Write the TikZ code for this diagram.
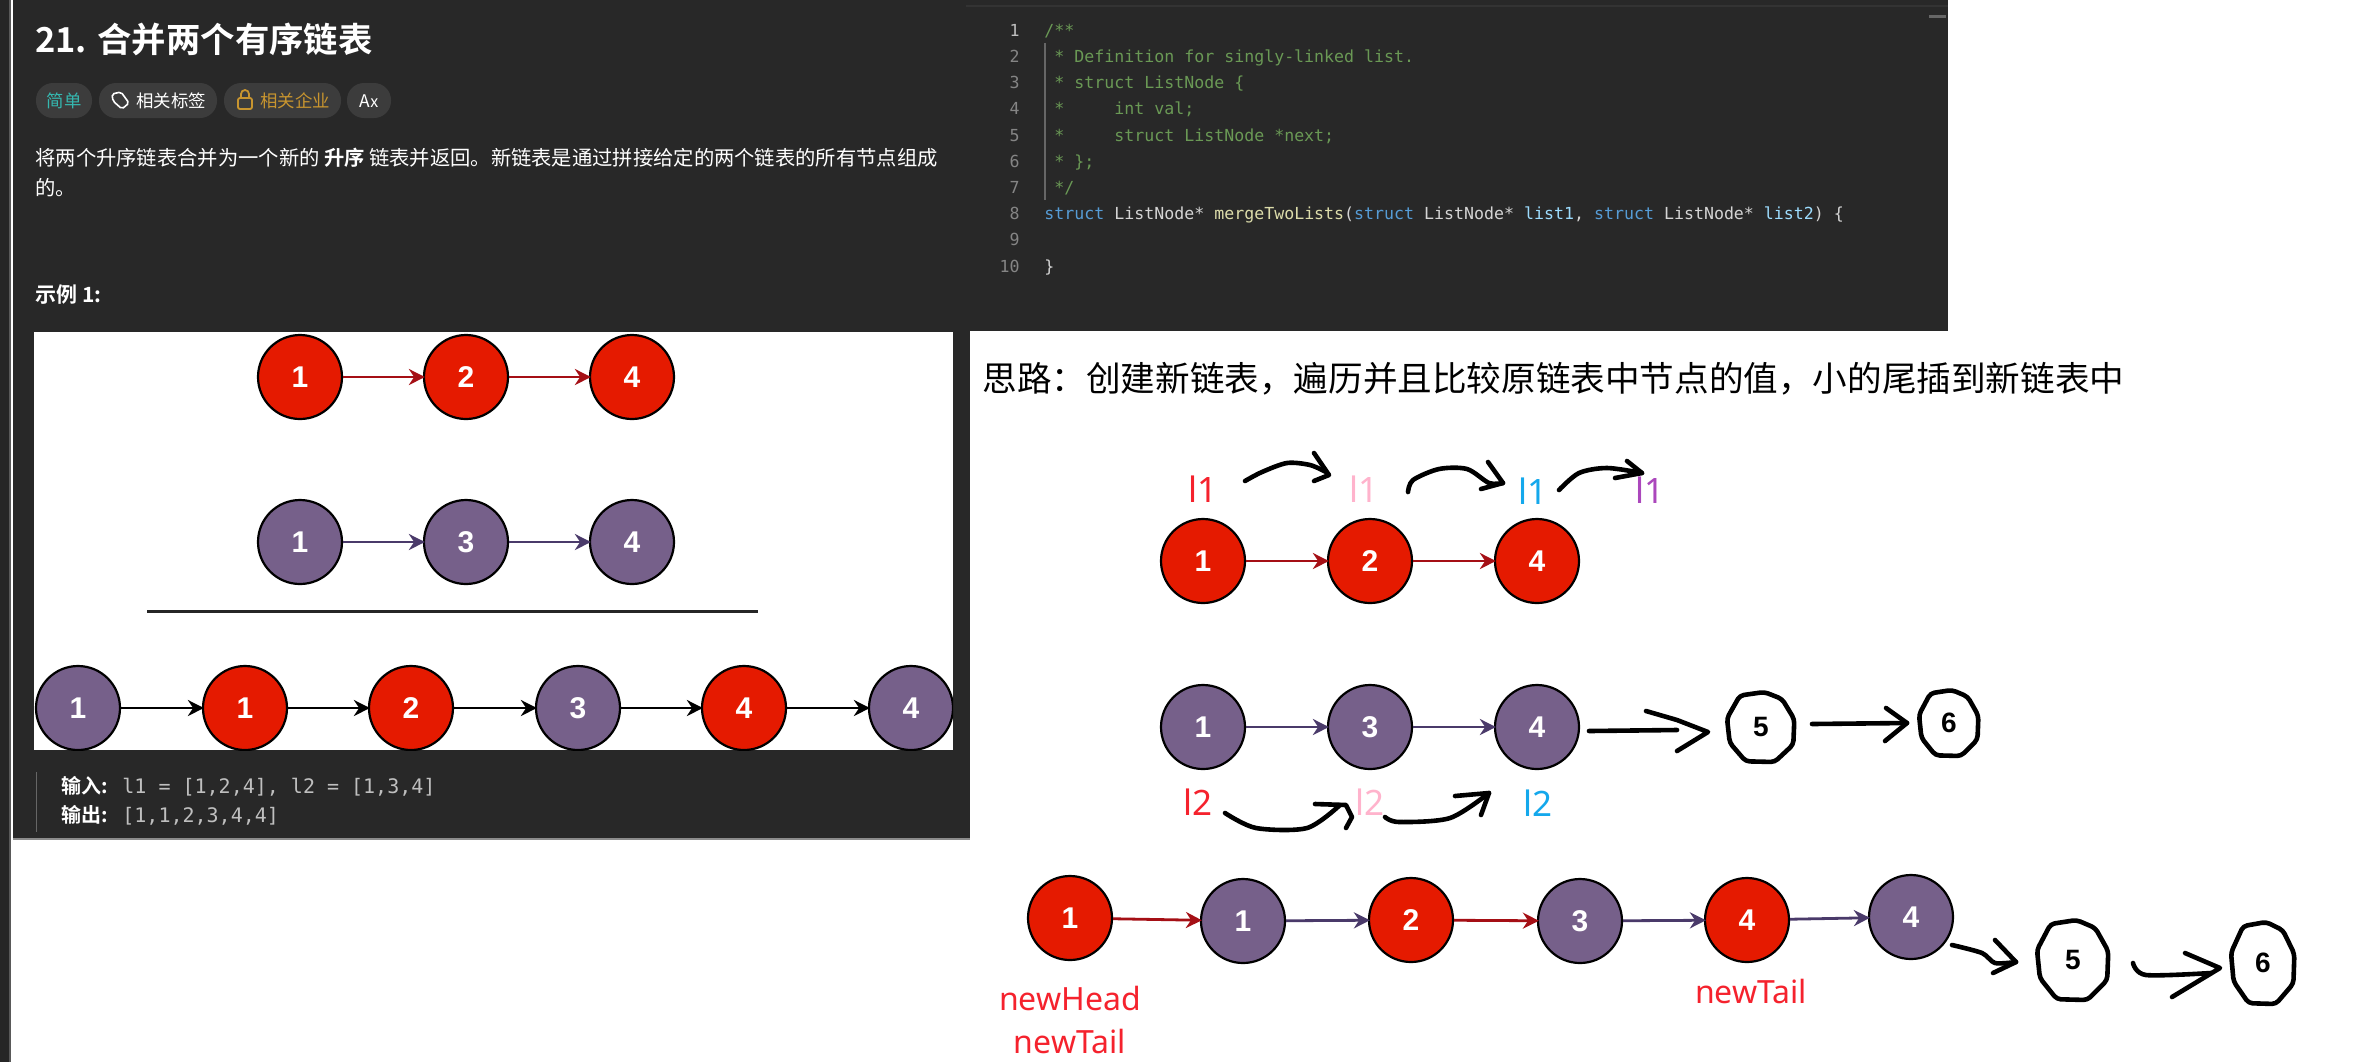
\documentclass[tikz,border=0pt]{standalone}
\usepackage{fontspec}
\setmainfont{Liberation Sans}
\newfontfamily\cjkfont{Noto Sans CJK SC}
\newfontfamily\cjkbold{Noto Sans CJK SC Bold}
\newfontfamily\inkfont{Noto Sans}
\setmonofont{DejaVu Sans Mono}
\usetikzlibrary{arrows.meta,shapes.geometric}

\definecolor{panelbg}{HTML}{282828}
\definecolor{pillbg}{HTML}{3C3C3C}
\definecolor{listred}{HTML}{E51A00}
\definecolor{listpurple}{HTML}{76608A}
\definecolor{arrowred}{HTML}{A50F15}
\definecolor{arrowpurple}{HTML}{4A3A6A}
\definecolor{inkred}{HTML}{F5222D}
\definecolor{inkpink}{HTML}{FFB3CC}
\definecolor{inkblue}{HTML}{14A8EC}
\definecolor{inkviolet}{HTML}{AB47BC}
\definecolor{codegreen}{HTML}{6A9955}
\definecolor{codeblue}{HTML}{569CD6}
\definecolor{codeparam}{HTML}{9CDCFE}
\definecolor{codefunc}{HTML}{DCDCAA}
\definecolor{codetext}{HTML}{D4D4D4}
\definecolor{lineno}{HTML}{858585}
\definecolor{easygreen}{HTML}{35B8B0}
\definecolor{firmorange}{HTML}{C8952F}

\newcommand{\handring}[3]{%
    \draw[hand, rounded corners=2pt, shift={(#1)}, xscale=#2, yscale=#3]
        (0.98,-0.22) -- (0.62,-0.8) -- (0.1,-1) -- (-0.62,-0.9) -- (-1,-0.25) -- (-0.92,0.45)
        -- (-0.45,0.98) -- (0.4,1) -- (0.95,0.5) -- cycle;}

\tikzset{
    redlist/.style={circle, draw=black, line width=1.1pt, fill=listred, minimum size=42pt,
        inner sep=0pt, text=white, font=\bfseries\fontsize{15}{15}\selectfont},
    purplelist/.style={redlist, fill=listpurple},
    redlink/.style={-{Stealth[length=8pt,width=8pt]}, arrowred, line width=1.4pt, shorten >=-1pt},
    purplelink/.style={redlink, arrowpurple},
    blacklink/.style={redlink, black},
    hand/.style={line width=2.3pt, line cap=round, line join=round},
    handdigit/.style={inner sep=0pt, font=\bfseries\fontsize{14}{14}\selectfont},
    pill/.style={draw=none, fill=pillbg, rounded corners=8.5pt},
    pilltext/.style={font=\cjkfont\fontsize{8.7}{9}\selectfont},
    codeline/.style={anchor=base west, inner sep=0pt, font=\ttfamily\fontsize{8.3}{9}\selectfont},
    linenum/.style={anchor=base east, inner sep=0pt, text=lineno, font=\ttfamily\fontsize{8.3}{9}\selectfont},
    pointer/.style={inner sep=0pt, font=\inkfont\fontsize{17.5}{18}\selectfont},
    tailname/.style={inner sep=0pt, text=inkred, font=\inkfont\fontsize{16}{16}\selectfont},
}

\begin{document}
\begin{tikzpicture}[x=0.5pt, y=-0.5pt]
    \useasboundingbox (0,0) rectangle (2356,1062);
    \fill[white] (0,0) rectangle (2356,1062);

    % Dark panels
    \fill[black!85!white] (0,0) rectangle (9,1062);
    \fill[black!65!white] (9,0) rectangle (11,1062);
    \fill[black!45!white] (13,838) rectangle (970,840);
    \fill[panelbg] (13,0) rectangle (970,838);
    \fill[panelbg] (970,0) rectangle (1948,331);
    \fill[black!80!white] (966,5) rectangle (1948,7);
    \fill[black!60!white] (1929,15) rectangle (1946,18);

    % Problem text
    \node[anchor=base west, inner sep=0pt, text=white, font=\cjkbold\fontsize{17.2}{18}\selectfont] (title) at (35,52) {21. 合并两个有序链表};
    \fill[pill] (36,83) rectangle (92,118);
    \node[pilltext, text=easygreen] (easy) at (64,101) {简单};
    \fill[pill] (99,83) rectangle (217,118);
    \node[pilltext, text=white] (tags) at (171,101) {相关标签};
    \draw[white, line width=0.8pt, rounded corners=1pt] (112,94) -- (121,92) -- (129,103) -- (122,109) -- (113,101) -- cycle;
    \fill[pill] (224,83) rectangle (341,118);
    \node[pilltext, text=firmorange] (firms) at (295,101) {相关企业};
    \draw[firmorange, line width=0.9pt, rounded corners=1pt] (238,98) rectangle (252,109);
    \draw[firmorange, line width=0.9pt] (241,98) -- (241,94) arc (180:360:4) -- (249,98);
    \fill[pill] (347,83) rectangle (391,118);
    \node[pilltext, text=white] (lang) at (369,101) {A\fontsize{8}{8}\selectfont x};

    \node[anchor=base west, inner sep=0pt, text=white, font=\cjkfont\fontsize{10.15}{10}\selectfont] (desc) at (35,165)
        {将两个升序链表合并为一个新的 {\cjkbold 升序} 链表并返回。新链表是通过拼接给定的两个链表的所有节点组成};
    \node[anchor=base west, inner sep=0pt, text=white, font=\cjkfont\fontsize{10.15}{10}\selectfont] (desc2) at (35,195) {的。};
    \node[anchor=base west, inner sep=0pt, text=white, font=\cjkbold\fontsize{10.5}{10}\selectfont] (sample) at (35,302) {示例 1:};

    % Code lines
    \fill[black!60!white] (1044,43) rectangle (1045.5,200);
    \node[linenum, text=lightgray] (no1) at (1020,36) {1};
    \foreach \n/\y in {2/62,3/88,4/114,5/141,6/167,7/193,8/219,9/245,10/272}
        \node[linenum] (no\n) at (1020,\y) {\n};
    \node[codeline, text=codegreen] (c1) at (1044,36) {/**};
    \node[codeline, text=codegreen] (c2) at (1054,62) {* Definition for singly-linked list.};
    \node[codeline, text=codegreen] (c3) at (1054,88) {* struct ListNode \{};
    \node[codeline, text=codegreen] (c4) at (1054,114) {*\ \ \ \ \ int val;};
    \node[codeline, text=codegreen] (c5) at (1054,141) {*\ \ \ \ \ struct ListNode *next;};
    \node[codeline, text=codegreen] (c6) at (1054,167) {* \};};
    \node[codeline, text=codegreen] (c7) at (1054,193) {*/};
    \node[codeline, text=codetext] (c8) at (1044,219) {\textcolor{codeblue}{struct} ListNode* \textcolor{codefunc}{mergeTwoLists}(\textcolor{codeblue}{struct} ListNode* \textcolor{codeparam}{list1}, \textcolor{codeblue}{struct} ListNode* \textcolor{codeparam}{list2}) \{};
    \node[codeline, text=codetext] (c10) at (1044,272) {\}};

    % Sample picture
    \fill[white] (34,332) rectangle (953,750);
    \begin{scope}
        \clip (34,332) rectangle (953,750);
        \node[redlist] (a1) at (300,377) {1};
        \node[redlist] (a2) at (466,377) {2};
        \node[redlist] (a4) at (632,377) {4};
        \node[purplelist] (b1) at (300,542) {1};
        \node[purplelist] (b3) at (466,542) {3};
        \node[purplelist] (b4) at (632,542) {4};
        \node[purplelist] (m1) at (78,708) {1};
        \node[redlist] (m2) at (245,708) {1};
        \node[redlist] (m3) at (411,708) {2};
        \node[purplelist] (m4) at (578,708) {3};
        \node[redlist] (m5) at (744,708) {4};
        \node[purplelist] (m6) at (911,708) {4};
    \end{scope}
    \draw[redlink] (a1) -- (a2);
    \draw[redlink] (a2) -- (a4);
    \draw[purplelink] (b1) -- (b3);
    \draw[purplelink] (b3) -- (b4);
    \draw[black!85, line width=1.7pt] (147,611.5) -- (758,611.5);
    \foreach \i/\j in {m1/m2,m2/m3,m3/m4,m4/m5,m5/m6}
        \draw[blacklink] (\i) -- (\j);

    % Input and output
    \fill[black!60!white] (35.5,772) rectangle (37,832);
    \node[anchor=base west, inner sep=0pt, text=white, font=\cjkbold\fontsize{10}{10}\selectfont] (inlabel) at (61,793) {输入:};
    \node[anchor=base west, inner sep=0pt, text=lightgray, font=\ttfamily\fontsize{10}{10}\selectfont] (inval) at (122,793) {l1 = [1,2,4], l2 = [1,3,4]};
    \node[anchor=base west, inner sep=0pt, text=white, font=\cjkbold\fontsize{10}{10}\selectfont] (outlabel) at (61,822) {输出:};
    \node[anchor=base west, inner sep=0pt, text=lightgray, font=\ttfamily\fontsize{10}{10}\selectfont] (outval) at (122,822) {[1,1,2,3,4,4]};

    % Idea
    \node[anchor=base west, inner sep=0pt, font=\cjkfont\fontsize{17.3}{18}\selectfont] (idea) at (982,391)
        {思路：创建新链表，遍历并且比较原链表中节点的值，小的尾插到新链表中};

    % First list
    \node[redlist] (p1) at (1203,561) {1};
    \node[redlist] (p2) at (1370,561) {2};
    \node[redlist] (p4) at (1537,561) {4};
    \draw[redlink] (p1) -- (p2);
    \draw[redlink] (p2) -- (p4);
    \node[pointer, text=inkred] (la) at (1203,489) {l1};
    \node[pointer, text=inkpink] (lb) at (1364,489) {l1};
    \node[pointer, text=inkblue] (lc) at (1533,491) {l1};
    \node[pointer, text=inkviolet] (ld) at (1650,490) {l1};
    \draw[hand] plot[smooth] coordinates {(1245,481) (1262,472) (1287,463) (1310,465) (1326,472)};
    \draw[hand] (1314,453) -- (1329,475) -- (1314,481);
    \draw[hand] plot[smooth] coordinates {(1408,492) (1413,480) (1439,469) (1467,469) (1489,483) (1503,483)};
    \draw[hand] (1488,462) -- (1503,483) -- (1481,489);
    \draw[hand] plot[smooth] coordinates {(1559,490) (1579,473) (1607,468) (1642,473)};
    \draw[hand] (1627,461) -- (1642,473) -- (1615,478);

    % Second list
    \node[purplelist] (q1) at (1203,727) {1};
    \node[purplelist] (q3) at (1370,727) {3};
    \node[purplelist] (q4) at (1537,727) {4};
    \draw[purplelink] (q1) -- (q3);
    \draw[purplelink] (q3) -- (q4);
    \node[pointer, text=inkred] (ra) at (1198,802) {l2};
    \node[pointer, text=inkpink] (rb) at (1370,802) {l2};
    \node[pointer, text=inkblue] (rc) at (1538,803) {l2};
    \draw[hand] plot[smooth] coordinates {(1225,813) (1256,828) (1307,828) (1340,805)};
    \draw[hand] (1315,804) -- (1346,805) -- (1352,817) -- (1346,828);
    \draw[hand] plot[smooth] coordinates {(1385,817) (1399,822) (1450,818) (1489,793)};
    \draw[hand] (1455,796) -- (1489,793) -- (1481,815);
    \node[handdigit] (q5) at (1761,727) {5};
    \node[handdigit] (q6) at (1949,723) {6};
    \handring{q5}{34}{35}
    \handring{q6}{30}{33}
    \draw[hand] (1589,731) -- (1677,730);
    \draw[hand] (1646,711) -- (1677,720) -- (1708,732) -- (1677,751);
    \draw[hand] (1812,724) -- (1907,723);
    \draw[hand] (1886,708) -- (1907,723) -- (1885,741);

    % Merged list
    \node[redlist] (r1) at (1070,918) {1};
    \node[purplelist] (r2) at (1243,921) {1};
    \node[redlist] (r3) at (1411,920) {2};
    \node[purplelist] (r4) at (1580,921) {3};
    \node[redlist] (r5) at (1747,920) {4};
    \node[purplelist] (r6) at (1911,917) {4};
    \draw[redlink] (r1) -- (r2);
    \draw[purplelink] (r2) -- (r3);
    \draw[redlink] (r3) -- (r4);
    \draw[purplelink] (r4) -- (r5);
    \draw[purplelink] (r5) -- (r6);
    \node[tailname] (head) at (1070,998) {newHead};
    \node[tailname] (taila) at (1070,1041) {newTail};
    \node[tailname] (tailb) at (1751,991) {newTail};
    \node[handdigit] (r7) at (2073,960) {5};
    \node[handdigit] (r8) at (2263,963) {6};
    \handring{r7}{36}{40}
    \handring{r8}{32}{41}
    \draw[hand] plot[smooth] coordinates {(1952,945) (1982,953) (1995,963) (2016,962)};
    \draw[hand] (1995,940) -- (2016,962) -- (1993,973);
    \draw[hand] plot[smooth] coordinates {(2133,963) (2146,975) (2211,973)};
    \draw[hand] (2185,953) -- (2220,968) -- (2172,997);
\end{tikzpicture}
\end{document}
